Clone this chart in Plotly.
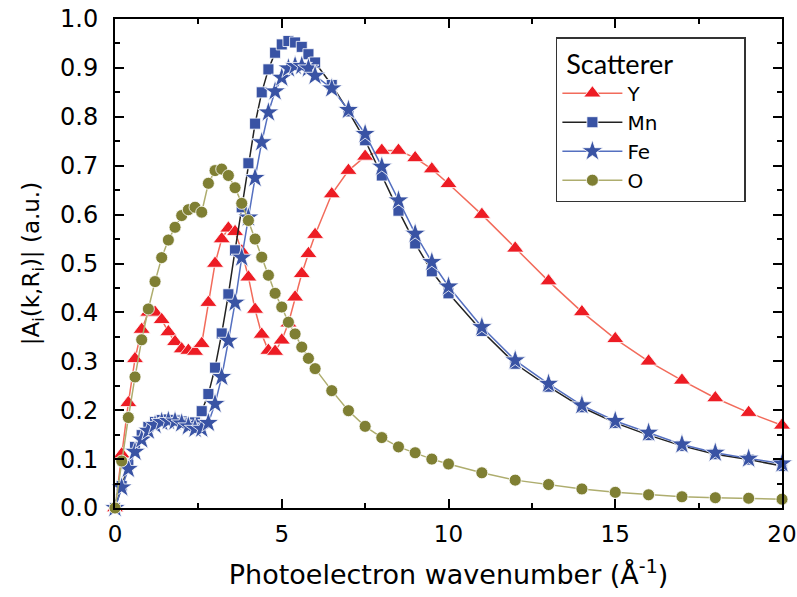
import plotly.graph_objects as go

k = [0.0, 0.2, 0.4, 0.6, 0.8, 1.0, 1.2, 1.4, 1.6, 1.8, 2.0, 2.2, 2.4, 2.6, 2.8,
     3.0, 3.2, 3.4, 3.6, 3.8, 4.0, 4.2, 4.4, 4.6, 4.8, 5.0, 5.2, 5.4, 5.6, 5.8, 6.0,
     6.5, 7.0, 7.5, 8.0, 8.5, 9.0, 9.5, 10.0,
     11, 12, 13, 14, 15, 16, 17, 18, 19, 20]

y_Y = [0.0, 0.11, 0.215, 0.305, 0.365, 0.40, 0.40, 0.385, 0.36, 0.34, 0.325, 0.322, 0.32, 0.336, 0.42,
       0.50, 0.55, 0.572, 0.565, 0.525, 0.472, 0.406, 0.355, 0.322, 0.32, 0.343, 0.378, 0.431, 0.479, 0.52, 0.559,
       0.642, 0.69, 0.719, 0.731, 0.731, 0.716, 0.693, 0.663,
       0.60, 0.531, 0.464, 0.401, 0.346, 0.30, 0.261, 0.225, 0.195, 0.169]

y_Mn = [0.0, 0.045, 0.088, 0.125, 0.149, 0.166, 0.176, 0.18, 0.181, 0.18, 0.177, 0.173, 0.175, 0.198, 0.233,
        0.287, 0.357, 0.437, 0.527, 0.615, 0.705, 0.786, 0.85, 0.897, 0.931, 0.948, 0.955, 0.952, 0.943, 0.928, 0.911,
        0.865, 0.811, 0.752, 0.68, 0.608, 0.541, 0.484, 0.439,
        0.362, 0.295, 0.248, 0.206, 0.174, 0.149, 0.127, 0.11, 0.099, 0.086]

y_Fe = [0.0, 0.042, 0.08, 0.115, 0.14, 0.158, 0.17, 0.176, 0.178, 0.177, 0.173, 0.167, 0.162, 0.162, 0.174,
        0.213, 0.268, 0.342, 0.42, 0.512, 0.594, 0.675, 0.748, 0.809, 0.852, 0.88, 0.899, 0.904, 0.904, 0.899, 0.884,
        0.858, 0.814, 0.765, 0.698, 0.629, 0.561, 0.503, 0.453,
        0.37, 0.302, 0.254, 0.21, 0.178, 0.154, 0.13, 0.113, 0.101, 0.091]

y_O = [0.0, 0.096, 0.185, 0.268, 0.344, 0.407, 0.463, 0.512, 0.548, 0.574, 0.598, 0.61, 0.615, 0.605, 0.664,
       0.69, 0.693, 0.68, 0.655, 0.623, 0.588, 0.55, 0.513, 0.476, 0.439, 0.411, 0.38, 0.356, 0.329, 0.306, 0.285,
       0.24, 0.199, 0.167, 0.144, 0.125, 0.113, 0.1, 0.09,
       0.072, 0.057, 0.048, 0.039, 0.032, 0.027, 0.023, 0.021, 0.02, 0.018]

series = [
    ("Y", y_Y, "triangle-up", 15, "#ED1C24", "#F26B5B"),
    ("Mn", y_Mn, "square", 11, "#3953A4", "#222222"),
    ("Fe", y_Fe, "star", 16, "#3953A4", "#5570C0"),
    ("O", y_O, "circle", 12, "#7F7F33", "#AEAD6E"),
]

fig = go.Figure()
for name, ys, sym, sz, mc, lc in series:
    fig.add_trace(go.Scatter(
        x=k, y=ys, name=name, mode="lines+markers",
        line=dict(color=lc, width=1.5),
        marker=dict(symbol=sym, size=sz, color=mc, line=dict(color="white", width=0.8)),
        cliponaxis=False,
    ))

FONT = "DejaVu Sans, Liberation Sans, Arial, sans-serif"
fig.update_layout(
    width=797, height=597,
    margin=dict(l=115, r=15, t=19, b=89),
    plot_bgcolor="white", paper_bgcolor="white",
    font=dict(family=FONT, size=22, color="black"),
    showlegend=True,
    legend=dict(
        title=dict(text="\u00A0Scatterer" + "\u00A0" * 10, font=dict(family="Lato, Noto Sans, sans-serif", size=27)),
        x=0.661, y=0.963, xanchor="left", yanchor="top",
        bordercolor="#333333", borderwidth=1.5, bgcolor="white",
        font=dict(family=FONT, size=20),
        tracegroupgap=0, itemwidth=60,
    ),
    xaxis=dict(
        range=[0, 20], dtick=5, tick0=0, automargin=False,
        showline=True, linecolor="black", linewidth=2, mirror="ticks",
        ticks="inside", ticklen=9, tickwidth=1.5, tickcolor="black",
        showgrid=False, zeroline=False,
        minor=dict(dtick=2.5, ticks="inside", ticklen=5, tickwidth=1.5, tickcolor="black", showgrid=False),
        title=dict(text="Photoelectron wavenumber (Å<sup>-1</sup>)", font=dict(family=FONT, size=27), standoff=20),
        tickfont=dict(family=FONT, size=23),
        ticklabelstandoff=4,
        ticklabeloverflow="allow",
    ),
    yaxis=dict(
        range=[0, 1.0], dtick=0.1, tick0=0, tickformat=".1f", automargin=False,
        showline=True, linecolor="black", linewidth=2, mirror="ticks",
        ticks="inside", ticklen=9, tickwidth=1.5, tickcolor="black",
        showgrid=False, zeroline=False,
        minor=dict(dtick=0.05, ticks="inside", ticklen=5, tickwidth=1.5, tickcolor="black", showgrid=False),
        title=dict(text="|A<sub>i</sub>(k,R<sub>i</sub>)| (a.u.)", font=dict(family=FONT, size=23), standoff=14),
        tickfont=dict(family=FONT, size=24),
        ticklabelstandoff=10,
        ticklabeloverflow="allow",
    ),
)

fig.write_html("out.html")
